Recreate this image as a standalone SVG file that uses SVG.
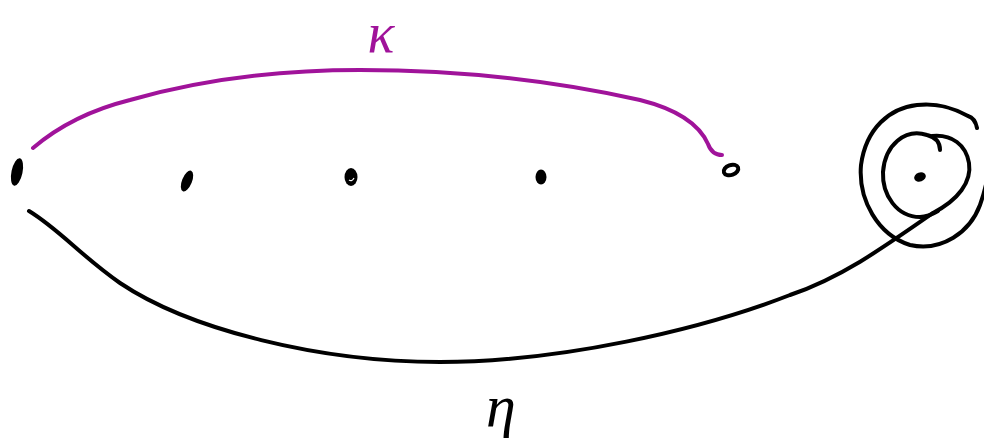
<svg xmlns="http://www.w3.org/2000/svg" width="984" height="438" viewBox="0 0 984 438">
<style>
.ink{fill:none;stroke:#000;stroke-width:4;stroke-linecap:round;stroke-linejoin:round}
.pur{fill:none;stroke:#A0139A;stroke-width:4;stroke-linecap:round;stroke-linejoin:round}
.dot{fill:#000}
.lbl{font-family:"Liberation Serif","DejaVu Serif",serif;font-style:italic}
</style>
<rect width="984" height="438" fill="#fff"/>
<g id="connectors">
<path class="pur" d="M33,148 C60,125 90,110 130,100 C200,80 280,70 360,70 C470,70 560,82 640,100 C680,110 700,126 708,144 Q712,155 722,155"/>
<path class="ink" d="M29,211 C60,230 80,255 120,283 C190,330 320,362 440,362 C560,362 700,330 790,295 C840,278 880,250 933,213"/>
<path class="ink" d="M933,213 C958,200 972,182 969,163 C966,145 952,134 932,136"/>
<path class="ink" d="M938,211 C933,214 928,217 920,217 C897,217 882,195 883,172 C885,145 905,128 927,135 C935,137 940,142 940,150"/>
<path class="ink" d="M977,128 Q975,118 968,116 C950,106 935,103 917,105 C890,108 866,128 861,165 C858,200 878,235 910,245 C942,252 970,232 980,205 C987,185 989,170 989,160"/>
</g>
<g id="n1"><ellipse class="dot" cx="17" cy="172" rx="5.5" ry="14" transform="rotate(12 17 172)"/></g>
<g id="n2"><ellipse class="dot" cx="187" cy="181" rx="5" ry="11" transform="rotate(22 187 181)"/></g>
<g id="n3"><ellipse class="dot" cx="351" cy="177" rx="6.5" ry="9"/><path d="M349,180 Q352,182 354,178" fill="none" stroke="#fff" stroke-width="1.2"/></g>
<g id="n4"><ellipse class="dot" cx="541" cy="177" rx="5.5" ry="7.5"/></g>
<g id="n5"><ellipse cx="731" cy="170" rx="7.5" ry="5" fill="none" stroke="#000" stroke-width="4" transform="rotate(-20 731 170)"/></g>
<g id="n6"><ellipse class="dot" cx="920" cy="177" rx="6" ry="4.5" transform="rotate(-20 920 177)"/></g>
<g id="labels">
<text class="lbl" x="381" y="52" font-size="56" fill="#A0139A" text-anchor="middle">κ</text>
<text class="lbl" x="501" y="426" font-size="60" fill="#000" text-anchor="middle">η</text>
</g>
</svg>
